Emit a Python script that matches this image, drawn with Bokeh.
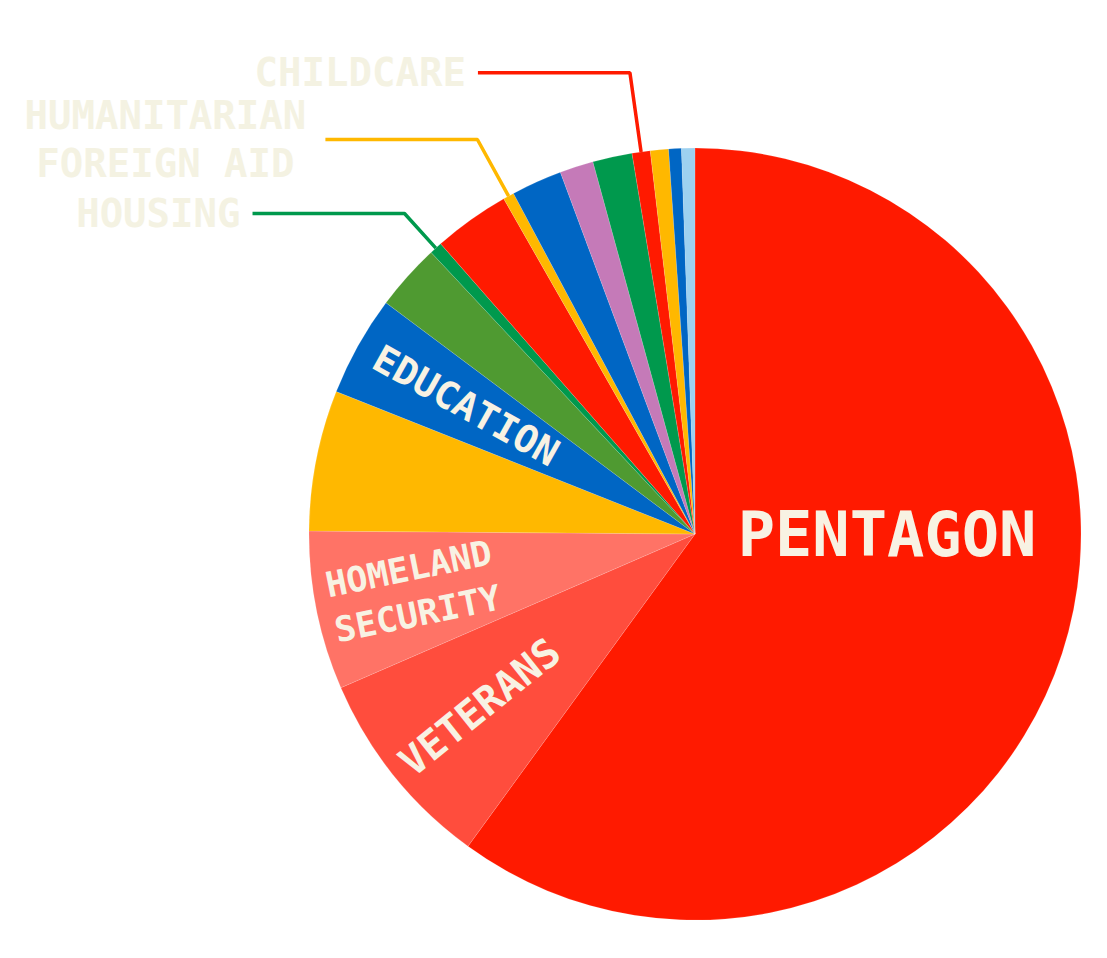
import math
from bokeh.plotting import figure
from bokeh.models import Range1d
from bokeh.core.properties import value
from bokeh.embed import file_html
from bokeh.resources import INLINE

# ---- data (share of total, clockwise from 12 o'clock) ----
categories = ["PENTAGON", "VETERANS", "HOMELAND SECURITY", "OTHER A", "EDUCATION",
              "OTHER B", "HOUSING", "OTHER C", "HUMANITARIAN FOREIGN AID", "OTHER D",
              "OTHER E", "OTHER F", "CHILDCARE", "OTHER G", "OTHER H", "OTHER I"]
shares = [60.0, 8.48, 6.64, 5.89, 4.21, 2.79, 0.53, 3.2, 0.46, 2.12,
          1.41, 1.65, 0.76, 0.76, 0.53, 0.56]
colors = ["#FF1A00", "#FF4D3D", "#FF7366", "#FFB800", "#0066C4",
          "#4F9A31", "#00994D", "#FF1A00", "#FFB800", "#0066C4",
          "#C57AB8", "#00994D", "#FF1A00", "#FFB800", "#0066C4", "#9DD1F0"]

inside_labels = {"PENTAGON": "PENTAGON", "VETERANS": "VETERANS",
                 "HOMELAND SECURITY": "HOMELAND\nSECURITY", "EDUCATION": "EDUCATION"}
outside_labels = {"CHILDCARE": "CHILDCARE",
                  "HUMANITARIAN FOREIGN AID": "HUMANITARIAN\nFOREIGN AID",
                  "HOUSING": "HOUSING"}

# ---- layout ----
W, H = 1091, 942
SCREEN_H = 958
cx, cy = 694.5, SCREEN_H - 533.6
R = 386.0
FONT = value("DejaVu Sans Mono")
CREAM = "#F8F2E3"
PALE = "#F4F2E2"

p = figure(width=W, height=H, x_range=Range1d(0, W), y_range=Range1d(SCREEN_H - H, SCREEN_H),
           output_backend="svg", toolbar_location=None, min_border=0,
           x_axis_location=None, y_axis_location=None)
p.grid.visible = False
p.outline_line_color = None
p.background_fill_color = "white"
p.border_fill_color = "white"

total = sum(shares)
starts, ends, mids = [], [], []
cum = 0.0
for s in shares:
    a_hi = math.radians(90 - cum / total * 360)
    cum += s
    a_lo = math.radians(90 - cum / total * 360)
    starts.append(a_lo)
    ends.append(a_hi)
    mids.append((a_lo + a_hi) / 2)

p.wedge(x=[cx] * len(shares), y=[cy] * len(shares), radius=R,
        start_angle=starts, end_angle=ends, direction="anticlock",
        fill_color=colors, line_color="white", line_alpha=0.25, line_width=0.5)

# inside labels: (radial distance fraction, font size)
inside_style = {"PENTAGON": (None, "62px"), "VETERANS": (0.715, "40px"),
                "HOMELAND SECURITY": (0.745, "35px"), "EDUCATION": (0.68, "38px")}
for i, name in enumerate(categories):
    if name not in inside_labels:
        continue
    frac, fs = inside_style[name]
    if frac is None:
        x, y, ang = cx + 192, cy, 0.0
    else:
        th = mids[i]
        x = cx + frac * R * math.cos(th)
        y = cy + frac * R * math.sin(th)
        ang = th - math.pi
    p.text(x=[x], y=[y], text=[inside_labels[name]], angle=ang,
           text_align="center", text_baseline="middle", text_font=FONT,
           text_font_style="bold", text_font_size=fs, text_color=CREAM,
           text_line_height=1.15)

# outside labels with leader lines
label_screen_y = {"CHILDCARE": 72.3, "HUMANITARIAN FOREIGN AID": 139.0, "HOUSING": 213.0}
HSEG = 152
for i, name in enumerate(categories):
    if name not in outside_labels:
        continue
    th = mids[i]
    ly = SCREEN_H - label_screen_y[name]
    px, py = cx + R * math.cos(th), cy + R * math.sin(th)
    t = (ly - cy) / math.sin(th)
    ex, ey = cx + t * math.cos(th), ly
    hx = ex - HSEG
    p.line(x=[px, ex, hx], y=[py, ey, ly], line_color=colors[i], line_width=3.5)
    txt = outside_labels[name]
    if "\n" in txt:
        p.text(x=[hx - 160], y=[ly], text=[txt], text_align="center", text_baseline="middle",
               text_font=FONT, text_font_style="bold", text_font_size="39px",
               text_color=PALE, text_line_height=1.06)
    else:
        p.text(x=[hx - 12], y=[ly], text=[txt], text_align="right", text_baseline="middle",
               text_font=FONT, text_font_style="bold", text_font_size="39px",
               text_color=PALE)

open("out.html", "w").write(file_html(p, INLINE))
